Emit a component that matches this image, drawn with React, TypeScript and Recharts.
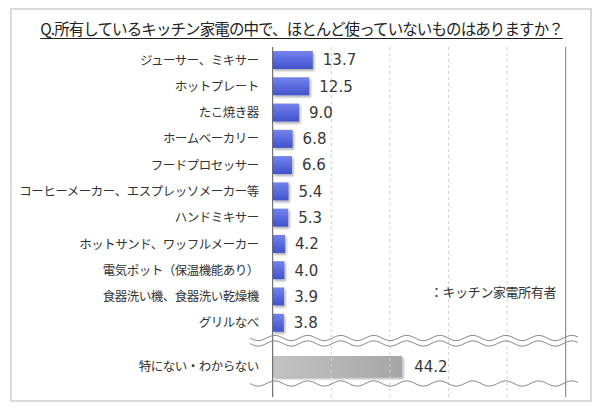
import React from "react"
import {
  BarChart,
  Bar,
  XAxis,
  YAxis,
  ReferenceLine,
  LabelList,
} from "recharts"

const categories = [
  "ジューサー、ミキサー",
  "ホットプレート",
  "たこ焼き器",
  "ホームベーカリー",
  "フードプロセッサー",
  "コーヒーメーカー、エスプレッソメーカー等",
  "ハンドミキサー",
  "ホットサンド、ワッフルメーカー",
  "電気ポット（保温機能あり）",
  "食器洗い機、食器洗い乾燥機",
  "グリルなべ",
]
const values = [13.7, 12.5, 9.0, 6.8, 6.6, 5.4, 5.3, 4.2, 4.0, 3.9, 3.8]

const otherCategories = ["特にない・わからない"]
const otherValues = [44.2]

const xTicks = [0, 20, 40, 60, 80, 100]
const gridTicks = [20, 40, 60, 80]

const title = "Q.所有しているキッチン家電の中で、ほとんど使っていないものはありますか？"
const note = "：キッチン家電所有者"

const mainData = categories.map((name, i) => ({ name, value: values[i] }))
const otherData = otherCategories.map((name, i) => ({ name, value: otherValues[i] }))

const FONT = "'Noto Sans CJK JP', 'Noto Sans', sans-serif"
const AXIS_W = 272.7
const RIGHT_M = 600 - 565.7

const CategoryTick = (props: any) => {
  const { x, y, payload } = props
  return (
    <text
      x={x}
      y={y}
      dy="0.36em"
      textAnchor="end"
      fontSize={12.5}
      letterSpacing={-0.5}
      fill="#333"
      fontFamily={FONT}
    >
      {payload.value}
    </text>
  )
}

const BlueBar = (props: any) => {
  const { x, y, width, height } = props
  if (!width || width <= 0) return null
  return (
    <rect
      x={x}
      y={y}
      width={width}
      height={height}
      fill="url(#blueGrad)"
      filter="url(#barShadow)"
    />
  )
}

const GrayBar = (props: any) => {
  const { x, y, width, height } = props
  if (!width || width <= 0) return null
  return (
    <rect
      x={x}
      y={y}
      width={width}
      height={height}
      fill="url(#grayGrad)"
      filter="url(#barShadow)"
    />
  )
}

const fmt = (v: any) => Number(v).toFixed(1)

// break marks drawn across the category axis
function wavePath(y: number, x0: number, x1: number, amp: number, period: number, phase = 0) {
  let d = ""
  for (let x = x0; x <= x1; x += 1) {
    const yy = y + amp * Math.sin(((x - x0) / period) * Math.PI * 2 + phase)
    d += (x === x0 ? "M" : "L") + x.toFixed(1) + " " + yy.toFixed(2) + " "
  }
  return d
}

export default function App() {
  return (
    <div
      style={{
        position: "absolute",
        left: 0,
        top: 0,
        width: 600,
        height: 409,
        background: "#fff",
        fontFamily: FONT,
      }}
    >
      <svg width={0} height={0} style={{ position: "absolute" }}>
        <defs>
          <linearGradient id="blueGrad" x1="0" y1="0" x2="0" y2="1">
            <stop offset="0%" stopColor="#7584ea" />
            <stop offset="50%" stopColor="#5a6adf" />
            <stop offset="100%" stopColor="#4353cb" />
          </linearGradient>
          <linearGradient id="grayGrad" x1="0" y1="0" x2="1" y2="0">
            <stop offset="0%" stopColor="#c3c3c3" />
            <stop offset="100%" stopColor="#a6a6a6" />
          </linearGradient>
          <filter id="barShadow" x="-10%" y="-20%" width="130%" height="160%">
            <feDropShadow dx="1.5" dy="2" stdDeviation="1.2" floodColor="#000" floodOpacity="0.3" />
          </filter>
        </defs>
      </svg>

      <div
        style={{
          position: "absolute",
          left: 10,
          top: 8,
          width: 578,
          height: 390,
          border: "2px solid #dadada",
        }}
      />

      <div
        style={{
          position: "absolute",
          left: 0,
          top: 17,
          width: 603,
          textAlign: "center",
          fontSize: 15.5,
          color: "#222",
          textDecoration: "underline",
          textUnderlineOffset: 3,
          lineHeight: "22px",
          letterSpacing: -0.9,
        }}
      >
        {title}
      </div>

      <div style={{ position: "absolute", left: 0, top: 47 }}>
        <BarChart
          layout="vertical"
          width={600}
          height={289}
          data={mainData}
          margin={{ top: 0, right: RIGHT_M, bottom: 0, left: 0 }}
          barCategoryGap={8}
        >
          <XAxis
            type="number"
            orientation="top"
            domain={[0, 100]}
            ticks={xTicks}
            height={0}
            tick={false}
            tickLine={false}
            axisLine={{ stroke: "#8a8a8a" }}
          />
          <YAxis
            type="category"
            dataKey="name"
            width={AXIS_W}
            interval={0}
            tickSize={0}
            tickMargin={14}
            tickLine={false}
            axisLine={{ stroke: "#555" }}
            tick={<CategoryTick />}
          />
          {gridTicks.map((t) => (
            <ReferenceLine key={t} x={t} stroke="#d0d0d0" strokeDasharray="3 3" />
          ))}
          <ReferenceLine x={100} stroke="#7a7a7a" />
          <Bar dataKey="value" barSize={18} shape={<BlueBar />} isAnimationActive={false}>
            <LabelList
              dataKey="value"
              position="right"
              offset={10}
              formatter={fmt}
              fill="#383838"
              fontSize={15}
              fontFamily="'DejaVu Sans', sans-serif"
            />
          </Bar>
        </BarChart>
      </div>

      <div style={{ position: "absolute", left: 0, top: 336 }}>
        <BarChart
          layout="vertical"
          width={600}
          height={61}
          data={otherData}
          margin={{ top: 0, right: RIGHT_M, bottom: 0, left: 0 }}
        >
          <XAxis type="number" domain={[0, 100]} ticks={xTicks} hide />
          <YAxis
            type="category"
            dataKey="name"
            width={AXIS_W}
            interval={0}
            tickSize={0}
            tickMargin={14}
            tickLine={false}
            axisLine={{ stroke: "#555" }}
            tick={<CategoryTick />}
          />
          {gridTicks.map((t) => (
            <ReferenceLine key={t} x={t} stroke="#d0d0d0" strokeDasharray="3 3" />
          ))}
          <ReferenceLine x={100} stroke="#7a7a7a" />
          <Bar dataKey="value" barSize={21} shape={<GrayBar />} isAnimationActive={false}>
            <LabelList
              dataKey="value"
              position="right"
              offset={12}
              formatter={fmt}
              fill="#383838"
              fontSize={15}
              fontFamily="'DejaVu Sans', sans-serif"
            />
          </Bar>
        </BarChart>
      </div>

      <svg
        width={600}
        height={409}
        style={{ position: "absolute", left: 0, top: 0, pointerEvents: "none" }}
      >
        <path d={wavePath(338, 250, 578, 2.6, 33)} fill="none" stroke="#8c8c8c" strokeWidth={1} />
        <path d={wavePath(343.5, 250, 578, 2.6, 33)} fill="none" stroke="#8c8c8c" strokeWidth={1} />
        <path d={wavePath(383.5, 250, 578, 2.6, 33)} fill="none" stroke="#8c8c8c" strokeWidth={1} />
      </svg>

      <div
        style={{
          position: "absolute",
          left: 430,
          top: 282,
          fontSize: 13,
          color: "#333",
          letterSpacing: -0.4,
          whiteSpace: "nowrap",
        }}
      >
        {note}
      </div>
    </div>
  )
}
